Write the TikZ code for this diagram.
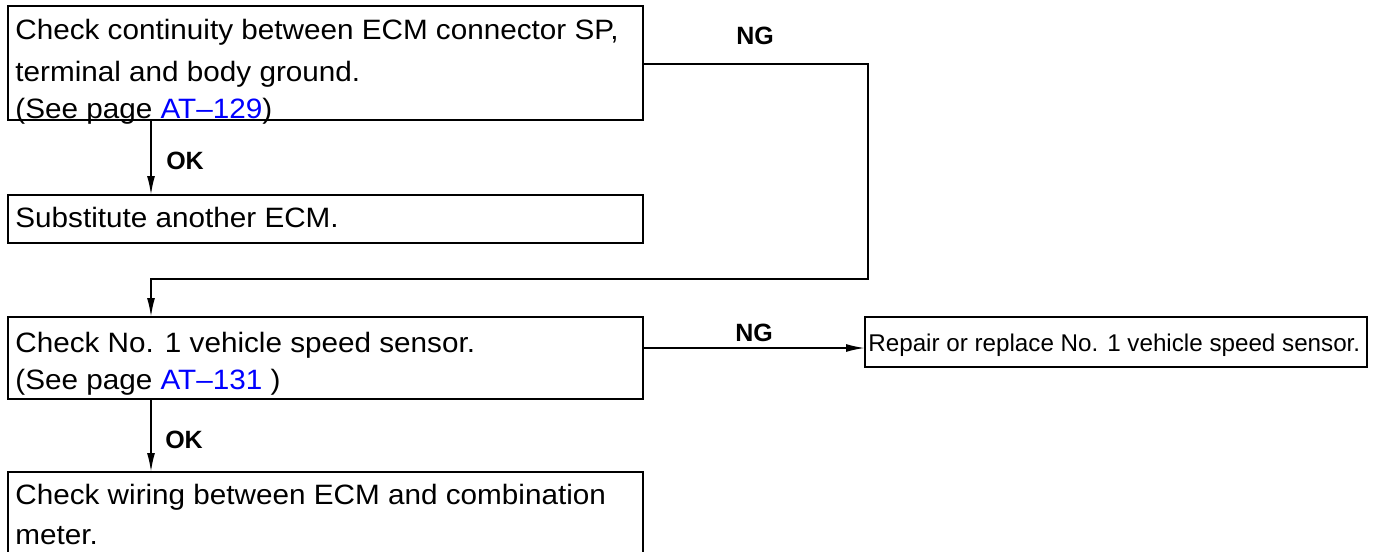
\documentclass[tikz,border=0pt]{standalone}
\usepackage{fontspec}
\setmainfont{Liberation Sans}
\newfontfamily\boxfont[FakeStretch=1.06]{Liberation Sans}
\usetikzlibrary{arrows.meta}
\definecolor{linkblue}{RGB}{0,0,255}
\begin{document}
\begin{tikzpicture}[x=0.5pt,y=-0.5pt,
  box/.style={draw, line width=1.3pt, inner sep=0, outer sep=0, anchor=north west},
  txt/.style={anchor=base west, inner sep=0, font=\boxfont\fontsize{14}{16}\selectfont},
  small/.style={anchor=base west, inner sep=0, font=\fontsize{12.1}{14}\selectfont},
  lab/.style={inner sep=0, font=\bfseries\fontsize{12.5}{14}\selectfont},
  arr/.style={line width=0.9pt, -{Latex[length=9.5pt,width=4pt]}}]
\useasboundingbox (0,0) rectangle (1373,552);
% boxes
\node[box, minimum width=317.5pt, minimum height=57pt] (b1) at (8,6) {};
\node[box, minimum width=317.5pt, minimum height=24pt] (b2) at (8,195) {};
\node[box, minimum width=317.5pt, minimum height=41pt] (b3) at (8,317) {};
\node[box, minimum width=251pt, minimum height=25pt] (b4) at (865,317) {};
\node[box, minimum width=317.5pt, minimum height=44pt] (b5) at (8,472) {};
% texts
\node[txt] (t1a) at (15,39) {Check continuity between ECM connector SP,};
\node[txt] (t1b) at (15,81) {terminal and body ground.};
\node[txt] (t1c) at (15,118) {(See page \textcolor{linkblue}{AT–129})};
\node[txt] (t2) at (15,227) {Substitute another ECM.};
\node[txt] (t3a) at (15,352) {Check No. 1 vehicle speed sensor.};
\node[txt] (t3b) at (15,389) {(See page \textcolor{linkblue}{AT–131} )};
\node[small] (t4) at (868,351) {Repair or replace No. 1 vehicle speed sensor.};
\node[txt] (t5a) at (15,504) {Check wiring between ECM and combination};
\node[txt] (t5b) at (15,544) {meter.};
% connectors
\coordinate (xa) at (151,0);
\coordinate (ng1) at (868,64);
\coordinate (lp) at (868,279);
\coordinate (ng2) at (0,348);
\draw[arr] (b1.south -| xa) -- (b2.north -| xa);
\draw[arr] (b1.east |- ng1) -- (ng1) -- (lp) -- (lp -| xa) -- (b3.north -| xa);
\draw[arr] (b3.east |- ng2) -- (b4.west |- ng2);
\draw[arr] (b3.south -| xa) -- (b5.north -| xa);
% labels
\node[lab] (ok1) at (185,161) {OK};
\node[lab] (ngl1) at (755,36) {NG};
\node[lab] (ngl2) at (754,333) {NG};
\node[lab] (ok2) at (184,440) {OK};
\end{tikzpicture}
\end{document}
